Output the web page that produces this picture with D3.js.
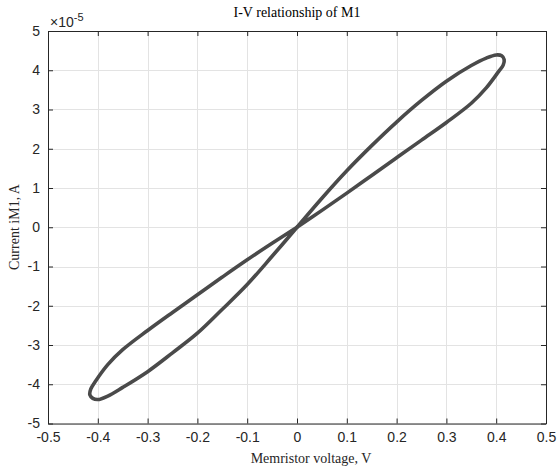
<!DOCTYPE html>
<html>
<head>
<meta charset="utf-8">
<script src="https://cdn.jsdelivr.net/npm/d3@7"></script>
<style>
  html, body { margin: 0; padding: 0; background: #fff; }
  svg { display: block; }
</style>
</head>
<body>
<svg id="chart" width="558" height="469"></svg>
<script>
// Tick values
const xTicks = [-0.5, -0.4, -0.3, -0.2, -0.1, 0, 0.1, 0.2, 0.3, 0.4, 0.5];
const yTicks = [-5, -4, -3, -2, -1, 0, 1, 2, 3, 4, 5];

// Positive lobe: voltage (V) and current (x1e-5 A), origin -> steep branch -> tip -> shallow branch -> origin
const posV = [0, 0.05, 0.1, 0.15, 0.2, 0.25, 0.3, 0.35, 0.38, 0.40, 0.411, 0.416, 0.414, 0.405, 0.38, 0.35, 0.3, 0.25, 0.2, 0.15, 0.1, 0.05, 0];
const posI = [0, 0.74, 1.44, 2.08, 2.68, 3.23, 3.72, 4.12, 4.31, 4.39, 4.37, 4.27, 4.13, 3.97, 3.55, 3.16, 2.67, 2.22, 1.77, 1.32, 0.87, 0.43, 0];

// Negative lobe: origin -> shallow branch -> tip -> steep branch -> origin
const negV = [0, -0.05, -0.1, -0.15, -0.2, -0.25, -0.3, -0.35, -0.38, -0.405, -0.414, -0.416, -0.41, -0.40, -0.38, -0.35, -0.3, -0.25, -0.2, -0.15, -0.1, -0.05, 0];
const negI = [0, -0.41, -0.83, -1.27, -1.72, -2.17, -2.63, -3.12, -3.50, -3.93, -4.12, -4.27, -4.36, -4.39, -4.30, -4.08, -3.68, -3.20, -2.70, -2.09, -1.46, -0.74, 0];

const svg = d3.select("#chart");
const mLeft = 48, mRight = 546, mTop = 31, mBottom = 423.5;

const x = d3.scaleLinear().domain([-0.5, 0.5]).range([mLeft, mRight]);
const y = d3.scaleLinear().domain([-5, 5]).range([mBottom, mTop]);

const axisColor = "#262626";
const gridColor = "#e3e3e3";

// Grid
const grid = svg.append("g");
grid.selectAll("line.gx").data(xTicks).enter().append("line")
  .attr("x1", d => Math.round(x(d)) + 0.5).attr("x2", d => Math.round(x(d)) + 0.5)
  .attr("y1", mTop).attr("y2", mBottom)
  .attr("stroke", gridColor).attr("stroke-width", 1);
grid.selectAll("line.gy").data(yTicks).enter().append("line")
  .attr("y1", d => Math.round(y(d)) + 0.5).attr("y2", d => Math.round(y(d)) + 0.5)
  .attr("x1", mLeft).attr("x2", mRight)
  .attr("stroke", gridColor).attr("stroke-width", 1);

// Curve
const line = d3.line()
  .x(d => x(d[0]))
  .y(d => y(d[1]))
  .curve(d3.curveCatmullRom.alpha(0.5));

const lobes = [
  posV.map((v, k) => [v, posI[k]]),
  negV.map((v, k) => [v, negI[k]])
];
svg.append("g").selectAll("path").data(lobes).enter().append("path")
  .attr("d", line)
  .attr("fill", "none")
  .attr("stroke", "#4a4a4a")
  .attr("stroke-width", 3.6)
  .attr("stroke-linejoin", "round")
  .attr("stroke-linecap", "round");

// Axes (box with inward ticks on all sides)
const tickLen = 5;
const hyphen = s => s.replace("\u2212", "-");
const fmtX = d => d === 0 ? "0" : hyphen(d3.format(".1f")(d));
const fmtY = d => hyphen(d3.format("d")(d));
const xAxisB = d3.axisBottom(x).tickValues(xTicks).tickSizeInner(-tickLen).tickSizeOuter(0).tickPadding(9).tickFormat(fmtX);
const xAxisT = d3.axisTop(x).tickValues(xTicks).tickSizeInner(-tickLen).tickSizeOuter(0).tickFormat("");
const yAxisL = d3.axisLeft(y).tickValues(yTicks).tickSizeInner(-tickLen).tickSizeOuter(0).tickPadding(8).tickFormat(fmtY);
const yAxisR = d3.axisRight(y).tickValues(yTicks).tickSizeInner(-tickLen).tickSizeOuter(0).tickFormat("");

function style(g) {
  g.selectAll("path.domain").attr("stroke", axisColor).attr("stroke-width", 1);
  g.selectAll(".tick line").attr("stroke", axisColor).attr("stroke-width", 1);
  g.selectAll(".tick text").attr("fill", axisColor)
    .style("font-family", "'Liberation Sans', Arial, sans-serif").style("font-size", "14px");
}
svg.append("g").attr("transform", `translate(0,${mBottom})`).call(xAxisB).call(style);
svg.append("g").attr("transform", `translate(0,${mTop})`).call(xAxisT).call(style);
svg.append("g").attr("transform", `translate(${mLeft},0)`).call(yAxisL).call(style);
svg.append("g").attr("transform", `translate(${mRight},0)`).call(yAxisR).call(style);

// Exponent label
const expo = svg.append("text")
  .attr("x", 50).attr("y", 27)
  .attr("fill", axisColor)
  .style("font-family", "'Liberation Sans', Arial, sans-serif").style("font-size", "14px");
expo.append("tspan").text("\u00d710");
expo.append("tspan").attr("dy", -6).style("font-size", "11px").text("-5");

// Title and axis labels
const serif = "'Liberation Serif', 'Times New Roman', serif";
svg.append("text")
  .attr("x", 297).attr("y", 17)
  .attr("text-anchor", "middle")
  .attr("fill", "#000")
  .style("font-family", serif).style("font-size", "14px")
  .text("I-V relationship of M1");
svg.append("text")
  .attr("x", 311).attr("y", 463)
  .attr("text-anchor", "middle")
  .attr("fill", "#262626")
  .style("font-family", serif).style("font-size", "14px")
  .text("Memristor voltage, V");
svg.append("text")
  .attr("transform", "translate(19,227) rotate(-90)")
  .attr("text-anchor", "middle")
  .attr("fill", "#262626")
  .style("font-family", serif).style("font-size", "14px")
  .text("Current iM1, A");
</script>
</body>
</html>
